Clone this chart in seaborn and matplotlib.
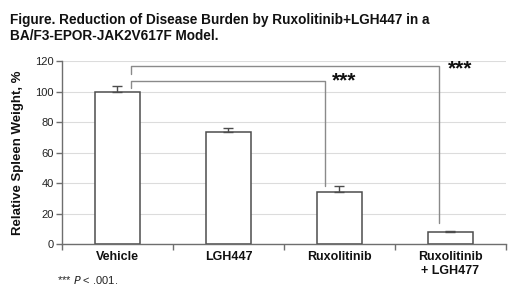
import matplotlib
matplotlib.use("Agg")
import matplotlib.pyplot as plt
import seaborn as sns
import pandas as pd

categories = ["Vehicle", "LGH447", "Ruxolitinib", "Ruxolitinib\n+ LGH477"]
values = [100.0, 73.5, 34.3, 7.9]
errors = [3.6, 2.7, 3.5, 0.8]
y_ticks = [0, 20, 40, 60, 80, 100, 120]

sns.set_theme(style="white")
plt.rcParams['font.family'] = ['Liberation Sans', 'DejaVu Sans']

df = pd.DataFrame({"group": categories, "value": values})

fig = plt.figure(figsize=(5.2, 2.98), dpi=100)
ax = fig.add_axes([0.119, 0.181, 0.854, 0.614])

edge = "#4d4d4d"
sns.barplot(data=df, x="group", y="value", ax=ax, color="white",
            edgecolor=edge, linewidth=1.1, width=0.41, errorbar=None, saturation=1)
ax.errorbar(range(len(values)), values, yerr=[[0] * 4, errors], fmt="none",
            ecolor=edge, elinewidth=1.0, capsize=3.5, capthick=1.0, zorder=3)

ax.set_xlim(-0.5, 3.5)
ax.set_ylim(0, 120)
ax.set_yticks(y_ticks)
ax.yaxis.grid(True, color="#dcdcdc", linewidth=0.8)
ax.set_axisbelow(True)
for s in ["top", "right"]:
    ax.spines[s].set_visible(False)
for s in ["left", "bottom"]:
    ax.spines[s].set_color("#6e6e6e")
    ax.spines[s].set_linewidth(1.0)

ax.set_xticks(range(4))
ax.set_xticklabels(categories, fontweight="bold", fontsize=9, color="#111111")
ax.set_xticks([-0.5, 0.5, 1.5, 2.5, 3.5], minor=True)
ax.tick_params(axis="x", which="major", length=0, pad=5)
ax.tick_params(axis="x", which="minor", length=4, color="#6e6e6e", width=1.0, direction="out", bottom=True)
ax.tick_params(axis="y", length=4, color="#6e6e6e", width=1.0, direction="out", left=True,
               labelsize=8, labelcolor="#222222", pad=2)
ax.set_xlabel("")
ax.set_ylabel("Relative Spleen Weight, %", fontweight="bold", fontsize=9.5, color="#111111", labelpad=8)

# significance brackets
bc = "#8a8a8a"
ax.plot([0.123, 0.123, 1.87, 1.87], [102.5, 107, 107, 38], color=bc, lw=1.0, clip_on=False)
ax.plot([0.123, 0.123, 2.9, 2.9], [111.5, 116.5, 116.5, 13.6], color=bc, lw=1.0, clip_on=False)
ax.text(2.04, 107, "***", fontsize=15, fontweight="bold", ha="center", va="center", color="#111111")
ax.text(3.09, 115, "***", fontsize=15, fontweight="bold", ha="center", va="center", color="#111111")

fig.text(0.019, 0.958, "Figure. Reduction of Disease Burden by Ruxolitinib+LGH447 in a\nBA/F3-EPOR-JAK2V617F Model.",
         fontsize=9.8, fontweight="bold", ha="left", va="top", color="#111111", linespacing=1.25)
fig.text(0.11, 0.04, r"*** $\mathit{P}$ < .001.", fontsize=8, ha="left", va="bottom", color="#222222")

fig.savefig("out.png", dpi=100)
